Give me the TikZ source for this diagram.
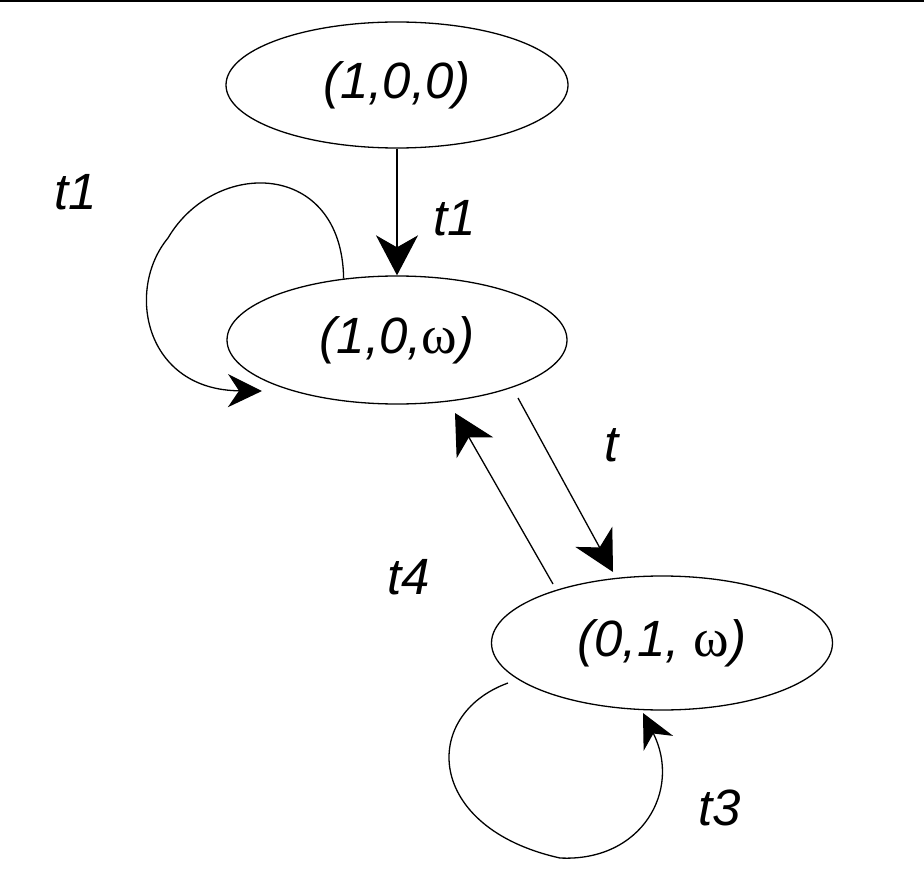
\documentclass[tikz,border=0pt]{standalone}
\usepackage{fontspec}
\setmainfont{Liberation Sans}
\newfontfamily\omfont{Liberation Serif}
\usetikzlibrary{shapes.geometric,arrows.meta}
\tikzset{
  state/.style={draw, ellipse, line width=1.3pt, inner sep=0pt,
    font=\fontsize{51}{58}\selectfont\itshape},
  lbl/.style={font=\fontsize{51}{58}\selectfont\itshape, inner sep=0pt},
  edge/.style={line width=1.3pt, -{Stealth[length=40pt, width=42pt, inset=12pt]}},
  loopedge/.style={line width=1.3pt, -{Stealth[length=34pt, width=33pt, inset=11pt]}}
}
\newcommand{\om}{{\upshape\omfont\fontsize{54}{58}\selectfont ω}}
\begin{document}
\begin{tikzpicture}[x=1pt, y=-1pt]
\useasboundingbox (0,0) rectangle (924,896);
\draw[line width=3pt] (0,1) -- (924,1);

\node[state, minimum width=342pt, minimum height=126pt] (n1) at (397,85) {(1,0,0)};
\node[state, minimum width=340pt, minimum height=128pt] (n2) at (397,340) {(1,0,\om)};
\node[state, minimum width=341pt, minimum height=134pt] (n3) at (662,643) {(0,1, \om)};

% t1 straight
\draw[edge] (n1) -- (n2);
\node[lbl] (lt1b) at (455,218) {t1};

% t1 self loop
\coordinate (l1e) at (262,391);
\draw[loopedge] (n2.131) .. controls (342,160) and (215,158) .. (168,238)
  .. controls (125,290) and (145,390) .. (l1e);
\node[lbl] (lt1a) at (76,192) {t1};

% t
\coordinate (ts) at (518,398);
\coordinate (te) at (613,572);
\draw[edge] (ts) -- (te);
\node[lbl] (lt) at (612,445) {t};

% t4
\coordinate (t4s) at (553,584);
\coordinate (t4e) at (455,413);
\draw[edge] (t4s) -- (t4e);
\node[lbl] (lt4) at (409,577) {t4};

% t3 self loop
\coordinate (l3s) at (508,683);
\coordinate (l3e) at (643,713);
\draw[loopedge] (l3s) .. controls (420,715) and (425,828) .. (560,858)
  .. controls (642,862) and (682,790) .. (l3e);
\node[lbl] (lt3) at (720,808) {t3};
\end{tikzpicture}
\end{document}
